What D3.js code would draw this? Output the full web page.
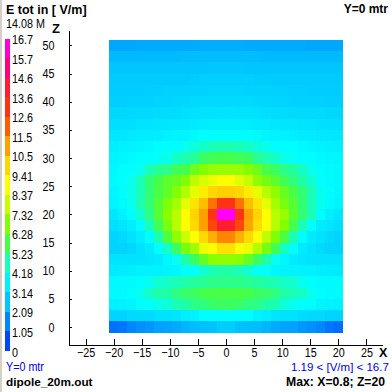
<!DOCTYPE html>
<html>
<head>
<meta charset="utf-8">
<script src="https://cdn.jsdelivr.net/npm/d3@7"></script>
<style>
body { margin: 0; background: #fff; }
svg { display: block; }
text { font-family: "Liberation Sans", Arial, sans-serif; fill: #000; }
text.heavy { font-weight: bold; }
</style>
</head>
<body>
<svg id="chart" width="392" height="392"></svg>
<script>
const xCenters = [-20, -18.4, -16.8, -15.2, -13.6, -12, -10.4, -8.8, -7.2, -5.6, -4, -2.4, -0.8, 0.8, 2.4, 4, 5.6, 7.2, 8.8, 10.4, 12, 13.6, 15.2, 16.8, 18.4, 20];
const zCenters = [50, 48, 46, 44, 42, 40, 38, 36, 34, 32, 30, 28, 26, 24, 22, 20, 18, 16, 14, 12, 10, 8, 6, 4, 2, 0];
const xTicks = [-25, -20, -15, -10, -5, 0, 5, 10, 15, 20, 25];
const zTicks = [0, 5, 10, 15, 20, 25, 30, 35, 40, 45, 50];
const legendLabels = ["16.7", "15.7", "14.6", "13.6", "12.6", "11.5", "10.5", "9.41", "8.37", "7.32", "6.28", "5.23", "4.18", "3.14", "2.09", "1.05", "0"];

// colour stops
const stopValues = [0, 1.05, 2.09, 3.14, 4.18, 4.8, 5.75, 6.8, 7.85, 8.9, 9.95, 11, 12, 13.1, 14.1, 15.2, 16.7];
const stopColors = ["#0028ff", "#0064ff", "#00aaff", "#00e1ff", "#00ffff", "#1effaa", "#46ff46", "#82ff00", "#c8ff00", "#ffff00", "#ffd700", "#ffa000", "#ff5f00", "#ff3214", "#ff1e32", "#ff0082", "#ff00ff"];

// E field, one row per z (top row z=50), one value per x
const row50 = [2.05, 2.05, 2.05, 2.1, 2.1, 2.1, 2.1, 2.1, 2.1, 2.1, 2.15, 2.15, 2.15, 2.15, 2.15, 2.1, 2.1, 2.1, 2.1, 2.1, 2.1, 2.1, 2.05, 2.05, 2.05, 2.05];
const row48 = [2.4, 2.4, 2.4, 2.4, 2.4, 2.4, 2.4, 2.4, 2.45, 2.45, 2.45, 2.45, 2.45, 2.45, 2.45, 2.45, 2.45, 2.4, 2.4, 2.4, 2.4, 2.4, 2.4, 2.4, 2.4, 2.4];
const row46 = [2.6, 2.6, 2.6, 2.6, 2.6, 2.6, 2.6, 2.6, 2.6, 2.6, 2.6, 2.65, 2.65, 2.65, 2.65, 2.6, 2.6, 2.6, 2.6, 2.6, 2.6, 2.6, 2.6, 2.6, 2.6, 2.6];
const row44 = [2.7, 2.7, 2.7, 2.7, 2.7, 2.7, 2.7, 2.7, 2.7, 2.75, 2.8, 2.8, 2.8, 2.8, 2.8, 2.8, 2.75, 2.75, 2.7, 2.7, 2.7, 2.7, 2.7, 2.7, 2.7, 2.7];
const row42 = [2.75, 2.75, 2.75, 2.75, 2.8, 2.8, 2.85, 2.85, 2.85, 2.85, 2.85, 2.9, 2.9, 2.9, 2.9, 2.85, 2.85, 2.85, 2.85, 2.85, 2.8, 2.8, 2.75, 2.75, 2.75, 2.75];
const row40 = [2.8, 2.8, 2.85, 2.85, 2.85, 2.9, 2.9, 2.95, 2.95, 3.0, 3.0, 3.0, 3.0, 3.0, 3.0, 3.0, 2.95, 2.95, 2.9, 2.9, 2.85, 2.85, 2.85, 2.85, 2.8, 2.8];
const row38 = [2.95, 2.95, 3.0, 3.0, 3.0, 3.05, 3.05, 3.05, 3.1, 3.15, 3.2, 3.2, 3.25, 3.25, 3.2, 3.2, 3.15, 3.1, 3.05, 3.05, 3.0, 3.0, 3.0, 3.0, 2.95, 2.95];
const row36 = [3.1, 3.1, 3.1, 3.25, 3.25, 3.3, 3.3, 3.35, 3.35, 3.5, 3.55, 3.6, 3.6, 3.6, 3.6, 3.55, 3.5, 3.4, 3.35, 3.3, 3.3, 3.25, 3.25, 3.1, 3.1, 3.1];
const row34 = [3.35, 3.35, 3.4, 3.55, 3.55, 3.6, 3.7, 3.75, 3.85, 4.05, 4.15, 4.15, 4.15, 4.15, 4.15, 4.15, 4.05, 3.85, 3.75, 3.7, 3.6, 3.55, 3.5, 3.4, 3.35, 3.35];
const row32 = [3.6, 3.7, 3.75, 3.85, 3.95, 4.1, 4.15, 4.1, 4.3, 4.45, 4.6, 4.7, 4.75, 4.75, 4.7, 4.6, 4.45, 4.3, 4.15, 4.15, 4.1, 3.95, 3.85, 3.7, 3.65, 3.6];
const row30 = [3.85, 3.9, 4.05, 4.15, 4.1, 4.25, 4.35, 4.6, 4.75, 4.95, 5.5, 5.6, 5.7, 5.7, 5.6, 5.5, 5.0, 4.75, 4.6, 4.35, 4.25, 4.15, 4.1, 3.95, 3.9, 3.85];
const row28 = [3.95, 4.1, 4.15, 4.3, 4.7, 5.0, 5.1, 5.6, 5.7, 6.4, 6.8, 7.1, 7.15, 7.15, 7.1, 6.8, 6.4, 5.7, 5.5, 5.1, 4.9, 4.6, 4.3, 4.15, 4.0, 3.95];
const row26 = [4.05, 4.15, 4.3, 4.7, 5.3, 5.7, 6.15, 6.3, 6.8, 7.7, 8.2, 8.5, 8.9, 8.9, 8.3, 7.8, 7.0, 6.5, 6.1, 5.6, 5.2, 4.8, 4.5, 4.15, 4.05, 3.95];
const row24 = [3.9, 4.1, 4.35, 4.7, 5.3, 5.75, 6.2, 6.8, 7.5, 8.4, 9.4, 9.95, 10.1, 10.1, 9.95, 9.4, 8.4, 7.6, 7.0, 6.3, 5.75, 5.3, 4.7, 4.3, 4.15, 3.9];
const row22 = [3.85, 4.05, 4.3, 4.75, 5.3, 6.0, 6.7, 7.3, 8.4, 9.6, 10.4, 11.7, 13.1, 13.1, 11.7, 10.4, 9.6, 8.4, 7.3, 6.6, 6.0, 5.3, 4.7, 4.3, 4.0, 3.8];
const row20 = [3.3, 3.7, 4.1, 4.5, 5.2, 6.0, 6.9, 7.6, 8.9, 10.0, 11.0, 13.1, 16.7, 16.7, 13.1, 11.0, 10.0, 8.9, 7.6, 7.1, 6.1, 5.3, 4.7, 4.15, 3.6, 3.3];
const row18 = [3.1, 3.3, 3.6, 4.15, 4.7, 5.6, 6.6, 7.6, 8.9, 9.9, 11.0, 12.6, 14.1, 14.1, 12.6, 10.9, 9.8, 8.9, 7.6, 6.8, 5.7, 4.7, 4.15, 3.5, 3.3, 3.1];
const row16 = [2.9, 3.0, 3.2, 3.6, 4.1, 4.8, 5.9, 7.0, 7.9, 8.9, 9.9, 10.7, 11.4, 11.4, 10.7, 9.9, 8.9, 7.7, 6.7, 5.8, 4.7, 4.1, 3.5, 3.2, 3.0, 2.9];
const row14 = [2.9, 2.9, 2.95, 3.2, 3.5, 4.1, 4.6, 5.5, 6.6, 7.2, 8.5, 9.0, 9.7, 9.7, 9.0, 8.5, 7.5, 6.6, 5.6, 4.6, 4.1, 3.5, 3.2, 3.0, 2.9, 2.9];
const row12 = [3.2, 3.2, 3.2, 3.2, 3.3, 3.5, 3.9, 4.3, 4.8, 5.5, 6.3, 6.9, 7.0, 7.0, 6.9, 6.3, 5.5, 4.8, 4.3, 3.9, 3.5, 3.3, 3.2, 3.2, 3.2, 3.2];
const row10 = [3.5, 3.55, 3.6, 3.7, 3.7, 3.7, 3.8, 3.9, 4.2, 4.25, 4.5, 4.7, 4.8, 4.8, 4.7, 4.5, 4.25, 4.2, 3.9, 3.8, 3.7, 3.7, 3.7, 3.6, 3.55, 3.5];
const row8 = [4.0, 4.0, 4.05, 4.1, 4.3, 4.5, 4.6, 4.7, 4.8, 4.9, 5.0, 5.1, 5.1, 5.1, 5.1, 5.0, 4.9, 4.8, 4.7, 4.6, 4.5, 4.3, 4.15, 4.05, 4.0, 4.0];
const row6 = [4.0, 4.0, 4.1, 4.3, 4.6, 4.8, 4.8, 5.2, 5.4, 5.5, 5.7, 5.75, 5.75, 5.75, 5.75, 5.7, 5.5, 5.4, 5.2, 4.8, 4.7, 4.6, 4.3, 4.1, 4.0, 4.0];
const row4 = [3.7, 3.75, 3.85, 4.1, 4.2, 4.35, 4.45, 4.7, 4.8, 5.1, 5.2, 5.4, 5.5, 5.5, 5.4, 5.2, 5.1, 4.8, 4.7, 4.45, 4.3, 4.15, 4.1, 3.85, 3.75, 3.7];
const row2 = [2.9, 2.9, 3.0, 3.0, 3.05, 3.2, 3.2, 3.3, 3.6, 3.7, 4.1, 4.1, 4.1, 4.1, 4.1, 4.1, 3.7, 3.6, 3.3, 3.2, 3.2, 3.05, 3.0, 3.0, 2.9, 2.9];
const row0 = [1.25, 1.3, 1.55, 1.7, 1.8, 1.95, 2.0, 2.1, 2.3, 2.45, 2.5, 2.55, 2.75, 2.75, 2.55, 2.5, 2.45, 2.3, 2.1, 2.0, 1.95, 1.8, 1.7, 1.55, 1.3, 1.19];
const field = [row50, row48, row46, row44, row42, row40, row38, row36, row34, row32, row30, row28, row26, row24, row22, row20, row18, row16, row14, row12, row10, row8, row6, row4, row2, row0];

const svg = d3.select("#chart");
const xScale = d3.scaleLinear().domain([-28.03, 27.78]).range([68.5, 382]);
const zScale = d3.scaleLinear().domain([-3.1, 52.75]).range([344.5, 30]);
const colorScale = d3.scaleLinear().domain(stopValues).range(stopColors);
const legendScale = d3.scaleLinear().domain([0, 16]).range([351, 38.5]);

// window frame strip on the left
svg.append("rect").attr("x", 0).attr("y", 0).attr("width", 2).attr("height", 392).attr("fill", "#d4d0c8");

// heat cells
const cellW = 1.6, cellH = 2;
field.forEach((row, r) => {
    svg.append("g").selectAll("rect")
        .data(row)
        .enter()
        .append("rect")
        .attr("shape-rendering", "crispEdges")
        .attr("x", (d, i) => Math.round(xScale(xCenters[i] - cellW / 2)))
        .attr("y", Math.round(zScale(zCenters[r] + cellH / 2)))
        .attr("width", (d, i) => Math.round(xScale(xCenters[i] + cellW / 2)) - Math.round(xScale(xCenters[i] - cellW / 2)))
        .attr("height", Math.round(zScale(zCenters[r] - cellH / 2)) - Math.round(zScale(zCenters[r] + cellH / 2)))
        .attr("fill", d => colorScale(d));
});

// axes
const xAxis = d3.axisBottom(xScale).tickValues(xTicks).tickSize(-6).tickPadding(4).tickSizeOuter(0);
const zAxis = d3.axisLeft(zScale).tickValues(zTicks).tickSize(-3).tickPadding(14).tickSizeOuter(0);
const gx = svg.append("g").attr("transform", "translate(0,344.5)").call(xAxis);
const gz = svg.append("g").attr("transform", "translate(68.5,0)").call(zAxis);
[gx, gz].forEach(g => {
    g.attr("font-family", null);
    g.selectAll("text").attr("font-size", 12.5);
    g.selectAll("line,path").attr("stroke", "#000").attr("shape-rendering", "crispEdges");
});

// legend
const legendValues = legendLabels.map(Number);
svg.append("g").selectAll("rect")
    .data(legendValues.slice(0, 16))
    .enter()
    .append("rect")
    .attr("shape-rendering", "crispEdges")
    .attr("x", 5)
    .attr("y", (d, i) => Math.round(legendScale(16 - i)))
    .attr("width", 5)
    .attr("height", (d, i) => Math.round(legendScale(15 - i)) - Math.round(legendScale(16 - i)))
    .attr("fill", (d, i) => colorScale((d + legendValues[i + 1]) / 2));
svg.append("g").selectAll("text")
    .data(legendLabels)
    .enter()
    .append("text")
    .attr("x", 12)
    .attr("y", (d, i) => legendScale(16 - i) + 5.5)
    .attr("font-size", 12.5)
    .text(d => d);

// captions
function caption(x, y, str, size, bold, color, anchor) {
    return svg.append("text")
        .attr("class", bold ? "heavy" : null)
        .attr("x", x).attr("y", y)
        .attr("font-size", size)
        .attr("text-anchor", anchor || "start")
        .style("fill", color || "#000")
        .text(str);
}
caption(6, 14, "E  tot in [ V/m]", 12.5, true);
caption(388, 13, "Y=0 mtr", 12, true, "#000", "end");
caption(6, 28, "14.08 M", 12.5, false);
caption(52, 33, "Z", 13, true);
caption(379, 357, "X", 12.5, true);
caption(6, 371, "Y=0 mtr", 12.5, false, "#0000e0");
const rangeText = caption(291, 371, "1.19 < [V/m] < 16.7", 11.5, false, "#0000e0").classed("range", true);
caption(6, 386, "dipole_20m.out", 11.8, true);
caption(385, 386, "Max: X=0.8; Z=20", 12.2, true, "#000", "end");

// the regular labels are narrower than Liberation Sans, squeeze them
svg.selectAll("text").filter(function () { return !this.classList.contains("heavy") && !this.classList.contains("range"); })
    .each(function () {
        d3.select(this)
            .attr("textLength", this.getComputedTextLength() * 0.86)
            .attr("lengthAdjust", "spacingAndGlyphs");
    });
</script>
</body>
</html>
